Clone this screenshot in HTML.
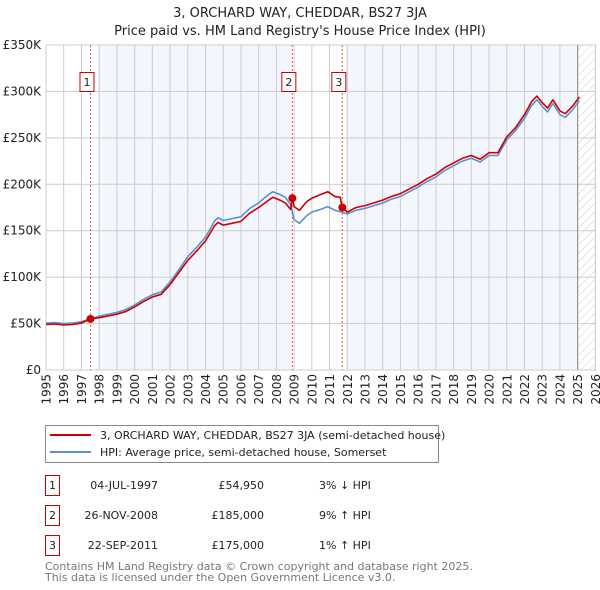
<!DOCTYPE html>
<html><head><meta charset="utf-8"><style>
body{margin:0;background:#fff;}
svg{display:block;font-family:"DejaVu Sans","Liberation Sans",sans-serif;}
</style></head><body>
<svg id="chart" width="600" height="590" viewBox="0 0 600 590">
<text x="300" y="17" text-anchor="middle" font-size="13" fill="#222">3, ORCHARD WAY, CHEDDAR, BS27 3JA</text>
<text x="300" y="35" text-anchor="middle" font-size="13" fill="#222">Price paid vs. HM Land Registry's House Price Index (HPI)</text>
<g id="plot"></g>
<g>
<rect x="45.5" y="425.5" width="393" height="37" fill="#fff" stroke="#888"/>
<line x1="50" y1="435" x2="91" y2="435" stroke="#cc0000" stroke-width="2"/>
<text x="100" y="439" font-size="11" fill="#222">3, ORCHARD WAY, CHEDDAR, BS27 3JA (semi-detached house)</text>
<line x1="50" y1="452" x2="91" y2="452" stroke="#5b8fd0" stroke-width="2"/>
<text x="100" y="456" font-size="11" fill="#222">HPI: Average price, semi-detached house, Somerset</text>
</g>
<g font-size="11" fill="#222">
<rect x="45.5" y="475.5" width="14" height="20" fill="#fff" stroke="#cc0000"/><text x="52.5" y="489" text-anchor="middle">1</text>
<text x="158" y="489" text-anchor="end">04-JUL-1997</text><text x="264" y="489" text-anchor="end">£54,950</text><text x="319" y="489">3% ↓ HPI</text>
<rect x="45.5" y="505.5" width="14" height="20" fill="#fff" stroke="#cc0000"/><text x="52.5" y="519" text-anchor="middle">2</text>
<text x="158" y="519" text-anchor="end">26-NOV-2008</text><text x="264" y="519" text-anchor="end">£185,000</text><text x="319" y="519">9% ↑ HPI</text>
<rect x="45.5" y="535.5" width="14" height="20" fill="#fff" stroke="#cc0000"/><text x="52.5" y="549" text-anchor="middle">3</text>
<text x="158" y="549" text-anchor="end">22-SEP-2011</text><text x="264" y="549" text-anchor="end">£175,000</text><text x="319" y="549">1% ↑ HPI</text>
</g>
<text x="45" y="570" font-size="11" fill="#777">Contains HM Land Registry data © Crown copyright and database right 2025.</text>
<text x="45" y="581" font-size="11" fill="#777">This data is licensed under the Open Government Licence v3.0.</text>
</svg>
<script>
const hpiYears=[1995.0,1995.5,1996.0,1996.5,1997.0,1997.5,1998.0,1998.5,1999.0,1999.5,2000.0,2000.5,2001.0,2001.5,2002.0,2002.5,2003.0,2003.5,2004.0,2004.5,2004.7,2005.0,2005.5,2006.0,2006.5,2007.0,2007.5,2007.8,2008.2,2008.5,2008.8,2009.0,2009.3,2009.7,2010.0,2010.5,2010.9,2011.3,2011.7,2012.0,2012.5,2013.0,2013.5,2014.0,2014.5,2015.0,2015.5,2016.0,2016.5,2017.0,2017.5,2018.0,2018.5,2019.0,2019.5,2020.0,2020.5,2021.0,2021.5,2022.0,2022.4,2022.7,2023.0,2023.3,2023.6,2024.0,2024.3,2024.7,2025.1];
const hpiValues=[50.5,51,50,50.5,52,55,58,60,62,65,70,76,81,84,95,108,122,132,143,160,164,161,163,165,174,180,188,192,189,186,178,162,158,166,170,173,176,172,170,168,172,174,177,180,184,187,192,197,203,208,215,220,225,228,224,231,231,248,258,271,285,291,284,278,287,275,272,280,290];
const redYears=[1995.0,1995.5,1996.0,1996.5,1997.0,1997.5,1998.0,1998.5,1999.0,1999.5,2000.0,2000.5,2001.0,2001.5,2002.0,2002.5,2003.0,2003.5,2004.0,2004.5,2004.7,2005.0,2005.5,2006.0,2006.5,2007.0,2007.5,2007.8,2008.2,2008.5,2008.8,2008.9,2009.0,2009.3,2009.7,2010.0,2010.5,2010.9,2011.3,2011.6,2011.72,2012.0,2012.5,2013.0,2013.5,2014.0,2014.5,2015.0,2015.5,2016.0,2016.5,2017.0,2017.5,2018.0,2018.5,2019.0,2019.5,2020.0,2020.5,2021.0,2021.5,2022.0,2022.4,2022.7,2023.0,2023.3,2023.6,2024.0,2024.3,2024.7,2025.1];
const redValues=[49,49.5,48.5,49,50.5,54.95,56.3,58.2,60.1,63,68,73.7,78.6,81.5,92,105,118,128,139,155,159,156,158,160,169,175,182,186,183,180,173,185,176,172,181,185,189,192,187,186,175,170,175,177,180,183,187,190,195,200,206,211,218,223,228,231,227,234,234,251,261,275,289,295,288,282,291,279,276,284,294];
const saleYears=[1997.51,2008.9,2011.72];
const saleValues=[54.95,185,175];
const saleLabels=["1","2","3"];
const yTicks=[0,50,100,150,200,250,300,350];
const xTicks=[1995,1996,1997,1998,1999,2000,2001,2002,2003,2004,2005,2006,2007,2008,2009,2010,2011,2012,2013,2014,2015,2016,2017,2018,2019,2020,2021,2022,2023,2024,2025,2026];
const X0=46,X1=595.4,Y0=370,Y1=45;
const xs=y=>X0+(y-1995)/31*(X1-X0);
const ys=v=>Y0-v/350*(Y0-Y1);
const NS="http://www.w3.org/2000/svg";
const plot=document.getElementById('plot');
function mk(tag,attrs,parent){const e=document.createElementNS(NS,tag);for(const k in attrs)e.setAttribute(k,attrs[k]);(parent||plot).appendChild(e);return e;}
let b1=mk('rect',{x:98,y:Y1,width:xs(saleYears[1])-98,height:Y0-Y1,fill:'#eef3fc',opacity:0.7});


let b2=mk('rect',{x:346,y:Y1,width:xs(2025)-346,height:Y0-Y1,fill:'#eef3fc',opacity:0.7});


const defs=mk('defs',{});
const pat=mk('pattern',{id:'hatch',width:6,height:6,patternUnits:'userSpaceOnUse',patternTransform:'rotate(45)'},defs);
mk('line',{x1:0,y1:0,x2:0,y2:6,stroke:'#ccc','stroke-width':1},pat);
let h=mk('rect',{x:xs(2025),y:Y1,width:X1-xs(2025),height:Y0-Y1,fill:'url(#hatch)'});


yTicks.forEach(v=>{
 let l=mk('line',{x1:X0,x2:X1,y1:ys(v),y2:ys(v),stroke:'#cccccc'});
 
 
 let t=mk('text',{x:X0-5,y:ys(v)+4,'text-anchor':'end','font-size':12,fill:'#222'});
 t.textContent='£'+(v===0?'0':v+'K');
 
 
});
xTicks.forEach(y=>{
 let l=mk('line',{x1:xs(y),x2:xs(y),y1:Y1,y2:Y0,stroke:'#cccccc'});
 
 
 const tx=xs(y)+4.5, ty=374;
 let t=mk('text',{x:tx,y:ty,'text-anchor':'end','font-size':12,fill:'#222',transform:'rotate(-90 '+tx+' '+ty+')'});
 t.textContent=y;
 
 
});
let fr=mk('rect',{x:X0,y:Y1,width:X1-X0,height:Y0-Y1,fill:'none',stroke:'#cccccc'});


let nl=mk('line',{x1:xs(2025),x2:xs(2025),y1:Y1,y2:Y0,stroke:'#888'});


saleYears.forEach((y,i)=>{
 let l=mk('line',{x1:xs(y),x2:xs(y),y1:Y1,y2:Y0,stroke:'#ee5555','stroke-dasharray':'2,2'});
 
 
 let r=mk('rect',{x:xs(y)-10.5,y:72.5,width:14,height:19,fill:'#fff',stroke:'#cc0000'});
 
 
 let t=mk('text',{x:xs(y)-3.5,y:86,'text-anchor':'middle','font-size':11,fill:'#222'});
 t.textContent=saleLabels[i];
 
 
});
function path(xa,va,col,name){
 let d=xa.map((y,i)=>(i?'L':'M')+xs(y).toFixed(1)+','+ys(va[i]).toFixed(1)).join('');
 let p=mk('path',{d:d,fill:'none',stroke:col,'stroke-width':1.6,'stroke-linejoin':'round'});
 
 
}
path(hpiYears,hpiValues,'#5b8fd0','hpi-line');
path(redYears,redValues,'#cc0000','property-price-line');
saleYears.forEach((y,i)=>{
 let c=mk('circle',{cx:xs(y),cy:ys(saleValues[i]),r:4,fill:'#cc0000'});
 
 
});
</script>
</body></html>
